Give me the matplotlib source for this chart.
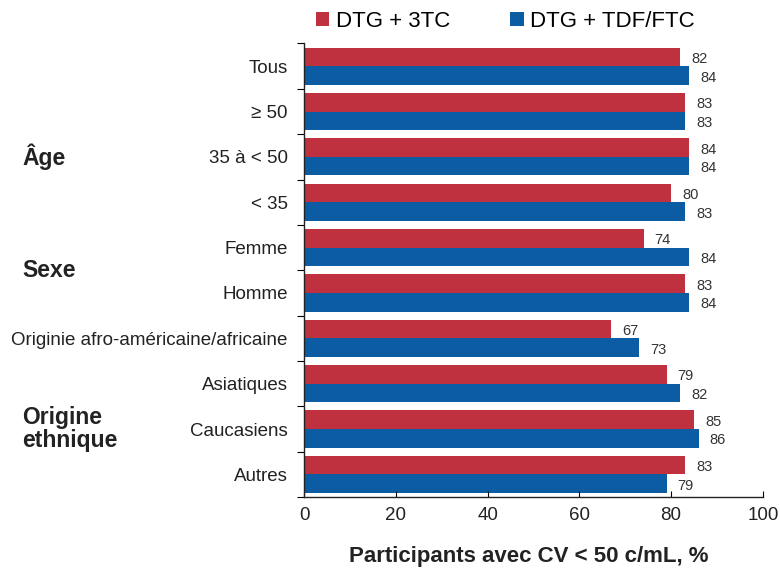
import numpy as np
import matplotlib.pyplot as plt
import matplotlib as mpl
from matplotlib.transforms import blended_transform_factory

mpl.rcParams.update({
    "font.family": ["Liberation Sans", "DejaVu Sans"],
    "axes.spines.top": False, "axes.spines.right": False,
})

RED = "#c0313f"
BLUE = "#0b5ca2"

categories = ["Tous", "≥ 50", "35 à < 50", "< 35", "Femme", "Homme",
              "Originie afro-américaine/africaine", "Asiatiques",
              "Caucasiens", "Autres"]
dtg_3tc = [82, 83, 84, 80, 74, 83, 67, 79, 85, 83]
dtg_tdf = [84, 83, 84, 83, 84, 84, 73, 82, 86, 79]
series_names = ["DTG + 3TC", "DTG + TDF/FTC"]
groups = [("Âge", 2.0), ("Sexe", 4.5), ("Origine\nethnique", 8.0)]
xticks = [0, 20, 40, 60, 80, 100]

fig = plt.figure(figsize=(7.8, 5.72), dpi=100)
ax = fig.add_axes([0.39, 0.131, 0.588, 0.793])

y = np.arange(len(categories))
h = 0.41
b1 = ax.barh(y - h / 2, dtg_3tc, height=h, color=RED, label=series_names[0])
b2 = ax.barh(y + h / 2, dtg_tdf, height=h, color=BLUE, label=series_names[1])

for bars, vals in [(b1, dtg_3tc), (b2, dtg_tdf)]:
    for bar, v in zip(bars, vals):
        ax.annotate(str(v), (v, bar.get_y() + bar.get_height() / 2),
                    xytext=(8, -1.5), textcoords="offset points",
                    ha="left", va="center", fontsize=10.5, color="#333333")

ax.set_xlim(0, 100)
ax.set_ylim(len(categories) - 0.5, -0.5)
ax.set_xticks(xticks)
ax.set_xticklabels([str(t) for t in xticks], fontsize=13.5, color="#222222")
ax.tick_params(axis="x", direction="in", length=4, pad=7)

ax.set_yticks(np.arange(len(categories) + 1) - 0.5)
ax.set_yticklabels([])
ax.set_yticks(y, minor=True)
ax.set_yticklabels(categories, minor=True, fontsize=13.5, color="#222222")
ax.tick_params(axis="y", which="major", direction="out", length=5)
ax.tick_params(axis="y", which="minor", length=0, pad=12)

for sp in ["left", "bottom"]:
    ax.spines[sp].set_linewidth(1.0)
    ax.spines[sp].set_color("#222222")

ax.set_xlabel("Participants avec CV < 50 c/mL, %", fontsize=16,
              fontweight="bold", color="#222222")
ax.xaxis.set_label_coords(0.49, -0.107)

trans = blended_transform_factory(fig.transFigure, ax.transData)
for name, yy in groups:
    ax.text(22 / 780, yy, name, ha="left", va="center", fontsize=16.5,
            fontweight="bold", color="#222222", linespacing=1.0,
            transform=trans, clip_on=False)

fig.legend(handles=[b1, b2], labels=series_names, loc="center",
           bbox_to_anchor=(0.648, 0.962), ncol=2, frameon=False,
           fontsize=16, handlelength=0.6, handleheight=0.6,
           handletextpad=0.3, columnspacing=2.7, borderaxespad=0)

fig.savefig("out.png", dpi=100)
